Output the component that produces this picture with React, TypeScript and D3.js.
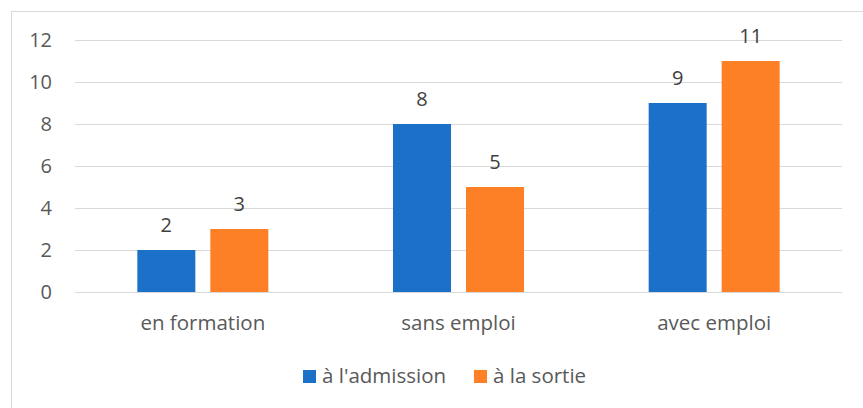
import { scaleBand, scaleLinear, select, axisLeft } from "d3"
import { useEffect, useRef } from "react"

const categories = ["en formation", "sans emploi", "avec emploi"]
const seriesNames = ["à l'admission", "à la sortie"]
const admission = [2, 8, 9]
const sortie = [3, 5, 11]
const yTicks = [0, 2, 4, 6, 8, 10, 12]
const colors = ["#1b70c8", "#fd7f26"]

const W = 863
const H = 408
const font = "'Open Sans', sans-serif"

const App = () => {
    const ref = useRef<SVGSVGElement>(null)

    useEffect(() => {
        const svg = select(ref.current)
        svg.selectAll("*").remove()

        const left = 75, right = 842, top = 40, bottom = 292
        const groupW = 131

        const x = scaleBand().domain(categories).range([left, right])
        const y = scaleLinear().domain([0, 12]).range([bottom, top])
        const inner = scaleBand().domain(seriesNames).range([0, groupW]).paddingInner(0.2055)
        const barX = (i: number, si: number) =>
            x(categories[i])! + x.bandwidth() / 2 - groupW / 2 + inner(seriesNames[si])!

        // chart border
        svg.append("rect")
            .attr("x", 11.5).attr("y", 11.5)
            .attr("width", W).attr("height", H)
            .attr("fill", "none").attr("stroke", "#d9d9d9")

        const yAxis = svg.append("g")
            .attr("transform", `translate(${left},0)`)
            .call(axisLeft(y).tickValues(yTicks).tickSize(-(right - left)).tickPadding(23))
        yAxis.select(".domain").remove()
        yAxis.selectAll(".tick line").attr("stroke", "#d9d9d9").attr("stroke-width", 1)
        yAxis.selectAll(".tick text")
            .attr("fill", "#595959").attr("font-size", 20).attr("font-family", font)

        const data = [admission, sortie]
        data.forEach((vals, si) => {
            const g = svg.append("g")
            g.selectAll("rect")
                .data(vals)
                .join("rect")
                .attr("x", (_, i) => barX(i, si))
                .attr("y", d => y(d))
                .attr("width", inner.bandwidth())
                .attr("height", d => y(0) - y(d))
                .attr("fill", colors[si])
            g.selectAll("text")
                .data(vals)
                .join("text")
                .attr("x", (_, i) => barX(i, si) + inner.bandwidth() / 2)
                .attr("y", d => y(d) - 18)
                .attr("text-anchor", "middle")
                .attr("fill", "#404040")
                .attr("font-size", 20)
                .attr("font-family", font)
                .text(d => d)
        })

        svg.append("g").selectAll("text")
            .data(categories)
            .join("text")
            .attr("x", d => x(d)! + x.bandwidth() / 2)
            .attr("y", 330)
            .attr("text-anchor", "middle")
            .attr("fill", "#595959")
            .attr("font-size", 20.5)
            .attr("font-family", font)
            .text(d => d)

        const legendX = [303, 474]
        const lg = svg.append("g")
        seriesNames.forEach((name, i) => {
            lg.append("rect")
                .attr("x", legendX[i]).attr("y", 370)
                .attr("width", 13).attr("height", 13)
                .attr("fill", colors[i])
            lg.append("text")
                .attr("x", legendX[i] + 19).attr("y", 383)
                .attr("fill", "#595959")
                .attr("font-size", 20.5)
                .attr("font-family", font)
                .text(name)
        })
    }, [])

    return (
        <svg ref={ref} width={W} height={H}
            style={{ position: "absolute", left: 0, top: 0, background: "#fff" }} />
    )
}

export default App
